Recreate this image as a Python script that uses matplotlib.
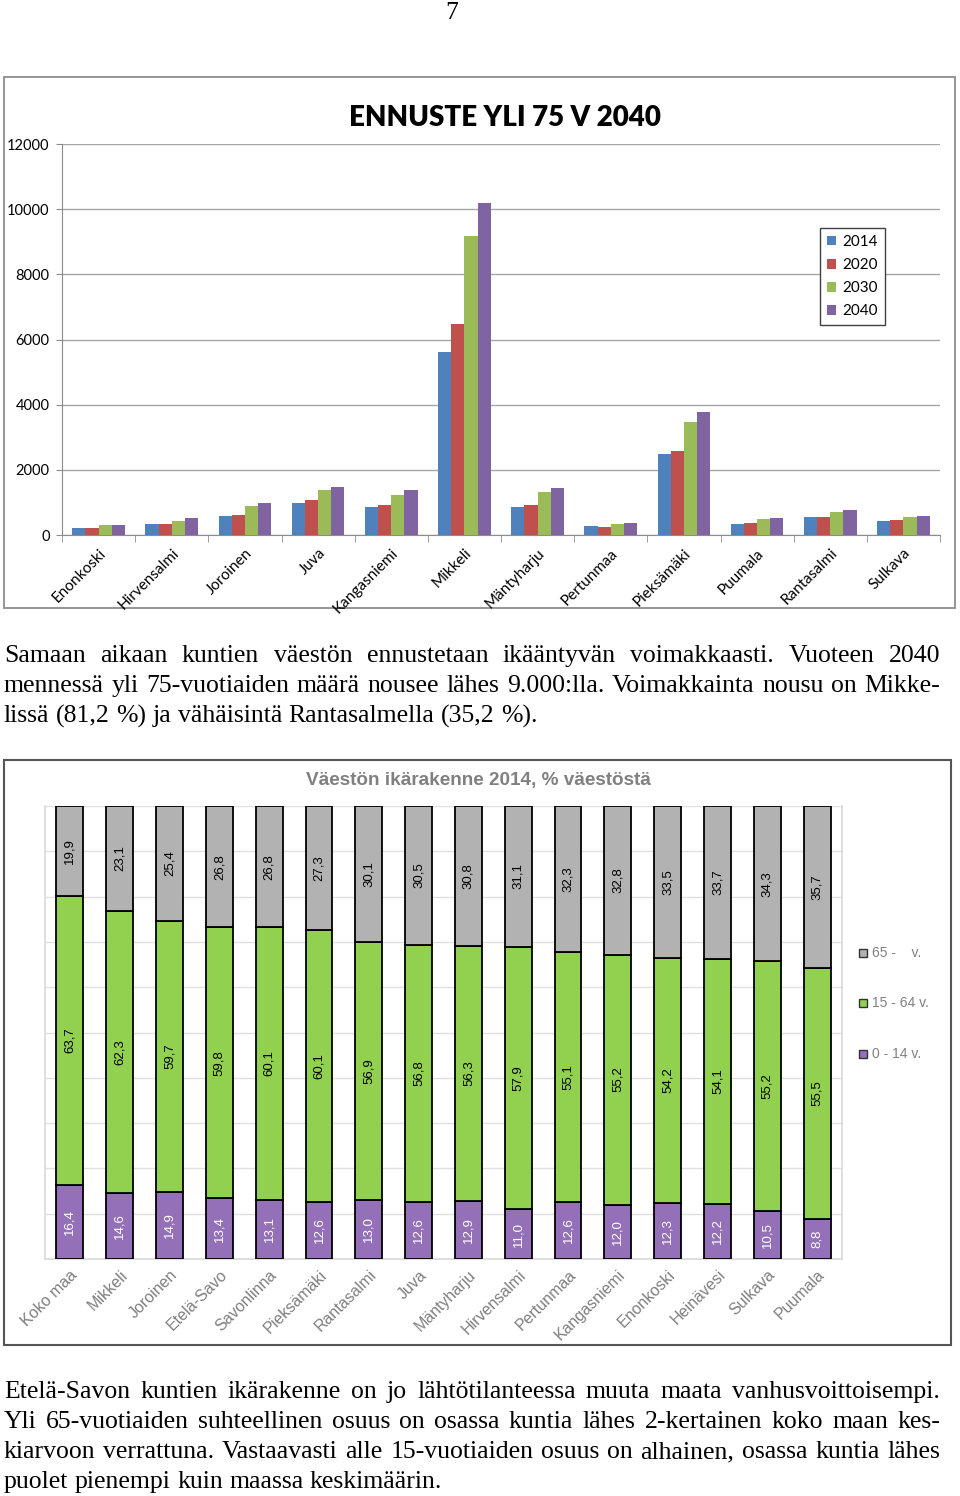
import numpy as np
import matplotlib
matplotlib.use('Agg')
import matplotlib.pyplot as plt
from matplotlib.patches import Rectangle

W, H = 960, 1496

# ---- data: ennuste yli 75 v ----
kunnat = ['Enonkoski', 'Hirvensalmi', 'Joroinen', 'Juva', 'Kangasniemi', 'Mikkeli',
          'Mäntyharju', 'Pertunmaa', 'Pieksämäki', 'Puumala', 'Rantasalmi', 'Sulkava']
v2014 = [215, 330, 570, 975, 870, 5610, 870, 275, 2490, 340, 560, 445]
v2020 = [220, 350, 625, 1060, 930, 6490, 930, 255, 2580, 360, 560, 465]
v2030 = [305, 445, 890, 1375, 1230, 9165, 1310, 340, 3470, 495, 710, 540]
v2040 = [310, 510, 995, 1470, 1375, 10180, 1430, 380, 3765, 520, 760, 580]
vuodet = ['2014', '2020', '2030', '2040']

# ---- data: ikärakenne 2014 ----
alueet = ['Koko maa', 'Mikkeli', 'Joroinen', 'Etelä-Savo', 'Savonlinna', 'Pieksämäki',
          'Rantasalmi', 'Juva', 'Mäntyharju', 'Hirvensalmi', 'Pertunmaa', 'Kangasniemi',
          'Enonkoski', 'Heinävesi', 'Sulkava', 'Puumala']
ika_0_14 = [16.4, 14.6, 14.9, 13.4, 13.1, 12.6, 13.0, 12.6, 12.9, 11.0, 12.6, 12.0, 12.3, 12.2, 10.5, 8.8]
ika_15_64 = [63.7, 62.3, 59.7, 59.8, 60.1, 60.1, 56.9, 56.8, 56.3, 57.9, 55.1, 55.2, 54.2, 54.1, 55.2, 55.5]
ika_65 = [19.9, 23.1, 25.4, 26.8, 26.8, 27.3, 30.1, 30.5, 30.8, 31.1, 32.3, 32.8, 33.5, 33.7, 34.3, 35.7]

teksti1 = ["Samaan aikaan kuntien väestön ennustetaan ikääntyvän voimakkaasti. Vuoteen 2040",
           "mennessä yli 75-vuotiaiden määrä nousee lähes 9.000:lla. Voimakkainta nousu on Mikke-",
           "lissä (81,2 %) ja vähäisintä Rantasalmella (35,2 %)."]
teksti2 = ["Etelä-Savon kuntien ikärakenne on jo lähtötilanteessa muuta maata vanhusvoittoisempi.",
           "Yli 65-vuotiaiden suhteellinen osuus on osassa kuntia lähes 2-kertainen koko maan kes-",
           "kiarvoon verrattuna. Vastaavasti alle 15-vuotiaiden osuus on alhainen, osassa kuntia lähes",
           "puolet pienempi kuin maassa keskimäärin."]

fig = plt.figure(figsize=(W / 100, H / 100), dpi=100)


def box(x0, y0, x1, y1):
    # pixel box (top-left origin) -> figure fraction rect
    return [x0 / W, 1 - y1 / H, (x1 - x0) / W, (y1 - y0) / H]


# page number
fig.text(452 / W, 1 - 13 / H, '7', fontsize=18.5, family='Liberation Serif', ha='center', va='center')

# ---------------- chart 1 ----------------
fig.patches.append(Rectangle((4 / W, 1 - 608 / H), 951 / W, 531 / H, transform=fig.transFigure,
                             facecolor='white', edgecolor='#8c8c8c', lw=1.3, zorder=-1))
fig.text(505 / W, 1 - 118 / H, 'ENNUSTE YLI 75 V 2040', fontsize=20, fontweight='heavy',
         family='Lato', ha='center', va='center')

ax1 = fig.add_axes(box(62, 144, 940, 535))
ax1.patch.set_alpha(0)
cols1 = ['#4F81BD', '#C0504D', '#9BBB59', '#8064A2']
x = np.arange(len(kunnat))
bw = 0.18
for i, (vals, c, lab) in enumerate(zip([v2014, v2020, v2030, v2040], cols1, vuodet)):
    ax1.bar(x + (i - 1.5) * bw, vals, width=bw, color=c, label=lab, zorder=3)
ax1.set_xlim(-0.5, len(kunnat) - 0.5)
ax1.set_ylim(0, 12000)
ax1.set_yticks(np.arange(0, 12001, 2000))
ax1.yaxis.grid(True, color='#a6a6a6', lw=1)
ax1.set_axisbelow(True)
for s in ['top', 'right']:
    ax1.spines[s].set_visible(False)
ax1.spines['left'].set_color('#8c8c8c')
ax1.spines['bottom'].set_color('#8c8c8c')
ax1.tick_params(axis='y', length=4, color='#8c8c8c', labelsize=10.5, pad=5)
ax1.set_xticks(x)
ax1.set_xticklabels(kunnat, rotation=45, ha='right', rotation_mode='anchor', fontsize=11)
ax1.tick_params(axis='x', length=0, pad=8)
ax1.set_xticks(np.arange(-0.5, len(kunnat)), minor=True)
ax1.tick_params(axis='x', which='minor', length=5, color='#8c8c8c')
for t in ax1.get_xticklabels() + ax1.get_yticklabels():
    t.set_family('Lato')
leg1 = ax1.legend(loc='upper left', bbox_to_anchor=(820 / W, 1 - 228 / H), bbox_transform=fig.transFigure,
                  fancybox=False, edgecolor='#404040', framealpha=1, handlelength=0.6, handleheight=0.6,
                  handletextpad=0.4, labelspacing=0.6, prop={'family': 'Lato', 'size': 11}, borderpad=0.45,
                  borderaxespad=0)
leg1.get_frame().set_linewidth(1)

# ---------------- justified text ----------------
renderer = fig.canvas.get_renderer()


def kappale(lines, y0, dy, size=18.5, x0=4, x1=940):
    space = size * 100 / 72 * 0.25
    for i, line in enumerate(lines):
        words = line.split(' ')
        y = 1 - (y0 + i * dy) / H
        texts = [fig.text(0, y, w, fontsize=size, family='Liberation Serif', va='center') for w in words]
        widths = [t.get_window_extent(renderer).width for t in texts]
        if i < len(lines) - 1:
            gap = (x1 - x0 - sum(widths)) / (len(words) - 1)
        else:
            gap = space
        xp = x0
        for t, w in zip(texts, widths):
            t.set_x(xp / W)
            xp += w + gap


kappale(teksti1, 656, 30)
kappale(teksti2, 1392, 30)

# ---------------- chart 2 ----------------
fig.patches.append(Rectangle((4 / W, 1 - 1345 / H), 947 / W, 585 / H, transform=fig.transFigure,
                             facecolor='white', edgecolor='#555555', lw=1.5, zorder=-1))
fig.text(478 / W, 1 - 780 / H, 'Väestön ikärakenne 2014, % väestöstä', fontsize=13.6, fontweight='bold',
         family='Liberation Sans', color='#808080', ha='center', va='center')

ax2 = fig.add_axes(box(45, 806, 842, 1259))
ax2.patch.set_alpha(0)
x2 = np.arange(len(alueet))
a = np.array(ika_0_14)
b = np.array(ika_15_64)
c = np.array(ika_65)
bw2 = 0.54
cols2 = ['#9470B8', '#92D050', '#B2B2B2']
ax2.bar(x2, a, width=bw2, color=cols2[0], edgecolor='black', lw=1.3, zorder=3)
ax2.bar(x2, b, width=bw2, bottom=a, color=cols2[1], edgecolor='black', lw=1.3, zorder=3)
ax2.bar(x2, c, width=bw2, bottom=a + b, color=cols2[2], edgecolor='black', lw=1.3, zorder=3)
for vals, bot, tc in [(a, np.zeros_like(a), 'white'), (b, a, 'black'), (c, a + b, 'black')]:
    for xi, v, bo in zip(x2, vals, bot):
        ax2.text(xi, bo + v / 2, f'{v:.1f}'.replace('.', ','), rotation=90, ha='center', va='center',
                 fontsize=9.5, color=tc, family='Liberation Sans', zorder=4)
ax2.set_xlim(-0.5, len(alueet) - 0.5)
ax2.set_ylim(0, 100)
ax2.set_yticks(np.arange(0, 101, 10))
ax2.yaxis.grid(True, color='#e0e0e0', lw=1)
ax2.set_axisbelow(True)
ax2.tick_params(axis='y', length=0, labelleft=False)
for s in ax2.spines.values():
    s.set_color('#d9d9d9')
    s.set_linewidth(1.2)
ax2.spines['top'].set_visible(False)
ax2.set_xticks(x2)
ax2.set_xticklabels(alueet, rotation=45, ha='right', rotation_mode='anchor', fontsize=11.5,
                    family='Liberation Sans', color='#7f7f7f')
ax2.tick_params(axis='x', length=0, pad=6)

# legend on the right, entries stacked far apart
for yy, lab, col in [(953, '65 -    v.', cols2[2]), (1003, '15 - 64 v.', cols2[1]), (1054, '0 - 14 v.', cols2[0])]:
    fig.patches.append(Rectangle((859 / W, 1 - (yy + 4) / H), 8 / W, 8 / H, transform=fig.transFigure,
                                 facecolor=col, edgecolor='#333333', lw=1))
    fig.text(872 / W, 1 - yy / H, lab, fontsize=10, family='Liberation Sans', color='#808080', va='center')

fig.savefig('out.png', dpi=100)
